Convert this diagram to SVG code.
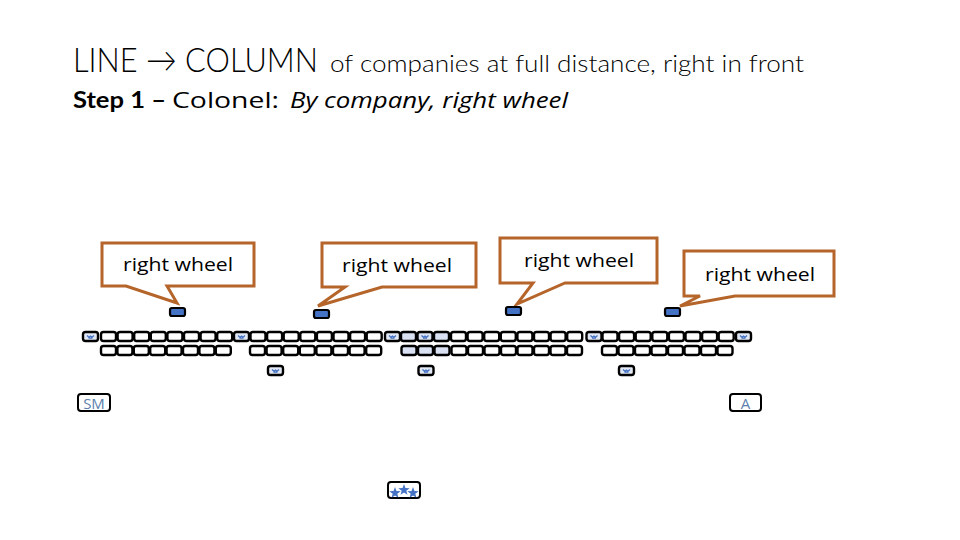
<svg xmlns="http://www.w3.org/2000/svg" xmlns:xlink="http://www.w3.org/1999/xlink" width="960" height="540" viewBox="0 0 960 540">
<style>
  .t { font-family: Lato, "Liberation Sans", sans-serif; fill: #000; }
  .r { font-family: "Open Sans", "Liberation Sans", sans-serif; fill: #000; }
  .box { fill: #fff; stroke: #000; stroke-width: 2.4; }
  .shade { fill: #d9e1f2; stroke: #000; stroke-width: 2.4; }
  .mark { fill: #4472c4; stroke: #000; stroke-width: 2.2; }
  .call { fill: #fff; stroke: #b5652a; stroke-width: 3; stroke-linejoin: miter; }
  .ct { font-family: "Open Sans", "Liberation Sans", sans-serif; font-size: 19px; fill: #000; text-anchor: middle; }
  .lbl { font-family: "Open Sans", "Liberation Sans", sans-serif; font-size: 15px; fill: #5b7fae; text-anchor: middle; }
  .ico { fill: none; stroke: #4472c4; stroke-width: 1.3; }
</style>
<defs>
  <rect id="b" x="0" y="0" width="15" height="9" rx="2.5" class="box"/>
  <rect id="s" x="0" y="0" width="15" height="9" rx="2.5" class="shade"/>
  <g id="f">
    <rect x="0" y="0" width="15" height="9" rx="2.5" fill="#e3e9f4" stroke="#000" stroke-width="2.4"/>
    <path class="ico" d="M4,3.5 l2,1.8 l1.5,-1.2 l1.5,1.2 l2,-1.8 M5.5,6.2 h4"/>
  </g>
  <g id="fs">
    <rect x="0" y="0" width="15" height="9" rx="2.5" class="shade"/>
    <path class="ico" d="M4,3.5 l2,1.8 l1.5,-1.2 l1.5,1.2 l2,-1.8 M5.5,6.2 h4"/>
  </g>
  <path id="star" d="M0,-6 L1.45,-1.9 L5.7,-1.8 L2.3,0.7 L3.5,4.8 L0,2.4 L-3.5,4.8 L-2.3,0.7 L-5.7,-1.8 L-1.45,-1.9 Z" fill="#4472c4"/>
</defs>

<g id="title">
  <text class="t" x="73" y="72" font-size="34" font-weight="300" textLength="245" lengthAdjust="spacingAndGlyphs">LINE → COLUMN</text>
  <text class="t" x="330" y="72" font-size="24" font-weight="300" textLength="474" lengthAdjust="spacingAndGlyphs">of companies at full distance, right in front</text>
</g>
<g id="step">
  <text class="t" x="73" y="108" font-size="23" font-weight="bold" textLength="93" lengthAdjust="spacingAndGlyphs">Step 1 –</text>
  <text class="r" x="172" y="108" font-size="22" textLength="107" lengthAdjust="spacingAndGlyphs">Colonel:</text>
  <text class="r" x="290" y="108" font-size="22" font-style="italic" textLength="278" lengthAdjust="spacingAndGlyphs">By company, right wheel</text>
</g>

<g id="callout-1">
  <path class="call" d="M102,243 H254 V286 H167 L177,303 L126,286 H102 Z"/>
  <text class="ct" x="178" y="271" textLength="110" lengthAdjust="spacingAndGlyphs">right wheel</text>
</g>
<g id="callout-2">
  <path class="call" d="M322,243 H476 V287 H382 L318,306 L345,287 H322 Z"/>
  <text class="ct" x="397" y="272" textLength="110" lengthAdjust="spacingAndGlyphs">right wheel</text>
</g>
<g id="callout-3">
  <path class="call" d="M500,238 H657 V283 H565 L517,304 L533,283 H500 Z"/>
  <text class="ct" x="579" y="267" textLength="110" lengthAdjust="spacingAndGlyphs">right wheel</text>
</g>
<g id="callout-4">
  <path class="call" d="M684,251 H834 V296 H735 L680,306 L700,296 H684 Z"/>
  <text class="ct" x="760" y="281" textLength="110" lengthAdjust="spacingAndGlyphs">right wheel</text>
</g>

<g id="markers">
  <rect class="mark" x="170" y="308" width="15" height="8" rx="2"/>
  <rect class="mark" x="314" y="310" width="15" height="8" rx="2"/>
  <rect class="mark" x="506" y="307" width="15" height="8" rx="2"/>
  <rect class="mark" x="665" y="308" width="15" height="8" rx="2"/>
</g>

<g id="front-rank">
  <use href="#f" x="83" y="332"/>
  <use href="#b" x="101" y="332"/><use href="#b" x="117.6" y="332"/><use href="#b" x="134.2" y="332"/><use href="#b" x="150.8" y="332"/>
  <use href="#b" x="167.4" y="332"/><use href="#b" x="184" y="332"/><use href="#b" x="200.6" y="332"/><use href="#b" x="217.2" y="332"/>
  <use href="#f" x="234" y="332"/>
  <use href="#b" x="250.5" y="332"/><use href="#b" x="267.1" y="332"/><use href="#b" x="283.7" y="332"/><use href="#b" x="300.3" y="332"/>
  <use href="#b" x="316.9" y="332"/><use href="#b" x="333.5" y="332"/><use href="#b" x="350.1" y="332"/><use href="#b" x="366.7" y="332"/>
  <use href="#f" x="385" y="332"/>
  <use href="#s" x="401" y="332"/><use href="#fs" x="417.5" y="332"/><use href="#s" x="434" y="332"/>
  <use href="#b" x="451" y="332"/><use href="#b" x="467.6" y="332"/><use href="#b" x="484.2" y="332"/><use href="#b" x="500.8" y="332"/>
  <use href="#b" x="517.4" y="332"/><use href="#b" x="534" y="332"/><use href="#b" x="550.6" y="332"/><use href="#b" x="567.2" y="332"/>
  <use href="#f" x="586.5" y="332"/>
  <use href="#b" x="602.5" y="332"/><use href="#b" x="619.1" y="332"/><use href="#b" x="635.7" y="332"/><use href="#b" x="652.3" y="332"/>
  <use href="#b" x="668.9" y="332"/><use href="#b" x="685.5" y="332"/><use href="#b" x="702.1" y="332"/><use href="#b" x="718.7" y="332"/>
  <use href="#f" x="736" y="332"/>
</g>

<g id="rear-rank">
  <use href="#b" x="101" y="346"/><use href="#b" x="117.4" y="346"/><use href="#b" x="133.8" y="346"/><use href="#b" x="150.2" y="346"/>
  <use href="#b" x="166.6" y="346"/><use href="#b" x="183" y="346"/><use href="#b" x="199.4" y="346"/><use href="#b" x="215.8" y="346"/>
  <use href="#b" x="250" y="346"/><use href="#b" x="266.6" y="346"/><use href="#b" x="283.2" y="346"/><use href="#b" x="299.8" y="346"/>
  <use href="#b" x="316.4" y="346"/><use href="#b" x="333" y="346"/><use href="#b" x="349.6" y="346"/><use href="#b" x="366.2" y="346"/>
  <use href="#s" x="401.5" y="346"/><use href="#s" x="418" y="346"/><use href="#s" x="434.5" y="346"/>
  <use href="#b" x="451.5" y="346"/><use href="#b" x="468" y="346"/><use href="#b" x="484.5" y="346"/><use href="#b" x="501" y="346"/>
  <use href="#b" x="517.5" y="346"/><use href="#b" x="534" y="346"/><use href="#b" x="550.5" y="346"/><use href="#b" x="567" y="346"/>
  <use href="#b" x="602" y="346"/><use href="#b" x="618.5" y="346"/><use href="#b" x="635" y="346"/><use href="#b" x="651.5" y="346"/>
  <use href="#b" x="668" y="346"/><use href="#b" x="684.5" y="346"/><use href="#b" x="701" y="346"/><use href="#b" x="717.5" y="346"/>
</g>

<g id="file-closers">
  <use href="#f" x="268" y="366"/>
  <use href="#f" x="418.5" y="366"/>
  <use href="#f" x="619" y="366"/>
</g>

<g id="sm">
  <rect x="78" y="394" width="32" height="17" rx="3" fill="#fff" stroke="#000" stroke-width="2"/>
  <text class="lbl" x="94" y="408.5">SM</text>
</g>
<g id="a">
  <rect x="730" y="394" width="31" height="17" rx="3" fill="#fff" stroke="#000" stroke-width="2"/>
  <text class="lbl" x="745.5" y="408.5">A</text>
</g>
<g id="colonel">
  <rect x="388" y="482" width="32" height="16" rx="3" fill="#fff" stroke="#000" stroke-width="2"/>
  <use href="#star" x="395" y="493"/>
  <use href="#star" x="404" y="490"/>
  <use href="#star" x="413" y="493"/>
</g>
</svg>
